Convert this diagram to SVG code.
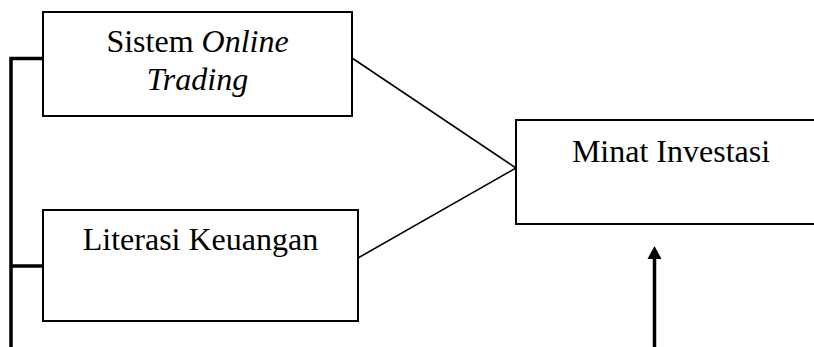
<svg xmlns="http://www.w3.org/2000/svg" width="814" height="347" viewBox="0 0 814 347">
<style>
.box{fill:#fff;stroke:#000;stroke-width:2}
.t{font-family:"Liberation Serif","Times New Roman",serif;font-size:32px;fill:#000;text-anchor:middle}
.thin{stroke:#000;stroke-width:1.6;fill:none}
.thick{stroke:#000;stroke-width:3.5;fill:none}
</style>
<defs>
<marker id="ah" viewBox="0 0 14 13" refX="7" refY="0" markerWidth="14" markerHeight="13" markerUnits="userSpaceOnUse" orient="auto-start-reverse">
<path d="M0,13 L7,0 L14,13 Z" fill="#000"/>
</marker>
</defs>
<rect width="814" height="347" fill="#fff"/>
<g id="connectors">
<path class="thick" d="M11,347 V58.5 H43"/>
<path class="thick" d="M11,266 H43"/>
<path class="thin" d="M352,58 L516,168 L358,258"/>
<path class="thick" d="M654.5,347 V258"/>
<path d="M647.5,259 L654.5,246 L661.5,259 Z" fill="#000"/>
</g>
<g id="node-sistem">
<rect class="box" x="43" y="12" width="309" height="104"/>
<text class="t" x="197.5" y="52">Sistem <tspan font-style="italic">Online</tspan></text>
<text class="t" x="197.5" y="90" font-style="italic">Trading</text>
</g>
<g id="node-literasi">
<rect class="box" x="43" y="210" width="315" height="111"/>
<text class="t" x="200.5" y="250">Literasi Keuangan</text>
</g>
<g id="node-minat">
<rect class="box" x="516" y="120" width="310" height="104"/>
<text class="t" x="671" y="162">Minat Investasi</text>
</g>
</svg>
